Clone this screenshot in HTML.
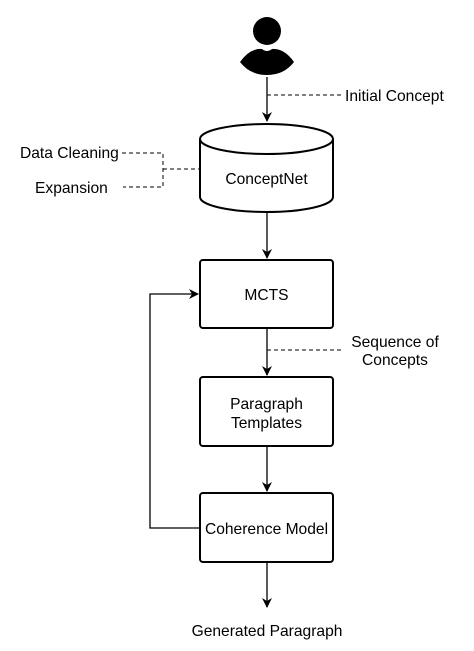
<!DOCTYPE html>
<html><head><style>body{margin:0;background:#fff}svg{display:block}text{font-family:"Liberation Sans",sans-serif;font-size:15.6px;fill:#000}</style></head><body>
<svg width="474" height="651" viewBox="0 0 474 651" xmlns="http://www.w3.org/2000/svg">
<defs><marker id="a" markerWidth="10" markerHeight="10" refX="9" refY="5" orient="auto" markerUnits="userSpaceOnUse"><path d="M0,0 L10,5 L0,10 L3,5 Z" fill="#000"/></marker></defs>
<g fill="#000"><circle cx="267" cy="31" r="14"/><path d="M240,62 Q250,48 262,49 Q267,53 272,49 Q284,48 294,62 Q284,75 267,75 Q250,75 240,62 Z"/></g>
<g stroke="#000" stroke-width="1.3" fill="none">
<line x1="267" y1="77" x2="267" y2="121" marker-end="url(#a)"/>
<line x1="267" y1="213" x2="267" y2="258" marker-end="url(#a)"/>
<line x1="267" y1="328" x2="267" y2="375" marker-end="url(#a)"/>
<line x1="267" y1="446" x2="267" y2="491" marker-end="url(#a)"/>
<line x1="267" y1="562" x2="267" y2="607" marker-end="url(#a)"/>
<polyline points="200,528 150,528 150,294 198,294" marker-end="url(#a)"/>
</g>
<g stroke="#000" stroke-width="1" fill="none" stroke-dasharray="4,3">
<line x1="267" y1="95" x2="343" y2="95"/>
<line x1="267" y1="350" x2="343" y2="350"/>
<polyline points="122,153 163,153 163,187 123,187"/>
<line x1="163" y1="169" x2="200" y2="169"/>
</g>
<g stroke="#000" stroke-width="2" fill="#fff">
<path d="M200,139 L200,197 A66.5,15 0 0 0 333,197 L333,139"/>
<ellipse cx="266.5" cy="139" rx="66.5" ry="15"/>
<rect x="200" y="260" width="133" height="68" rx="3"/>
<rect x="200" y="377" width="133" height="69" rx="3"/>
<rect x="200" y="493" width="133" height="69" rx="3"/>
</g>
<text x="266.5" y="184" text-anchor="middle">ConceptNet</text>
<text x="266.5" y="300" text-anchor="middle">MCTS</text>
<text x="266.5" y="409" text-anchor="middle">Paragraph</text>
<text x="266.5" y="428" text-anchor="middle">Templates</text>
<text x="266.5" y="534" text-anchor="middle">Coherence Model</text>
<text x="345" y="101">Initial Concept</text>
<text x="20" y="158">Data Cleaning</text>
<text x="35" y="193">Expansion</text>
<text x="395" y="347" text-anchor="middle">Sequence of</text>
<text x="395" y="365" text-anchor="middle">Concepts</text>
<text x="267" y="636" text-anchor="middle">Generated Paragraph</text>
</svg>
</body></html>
